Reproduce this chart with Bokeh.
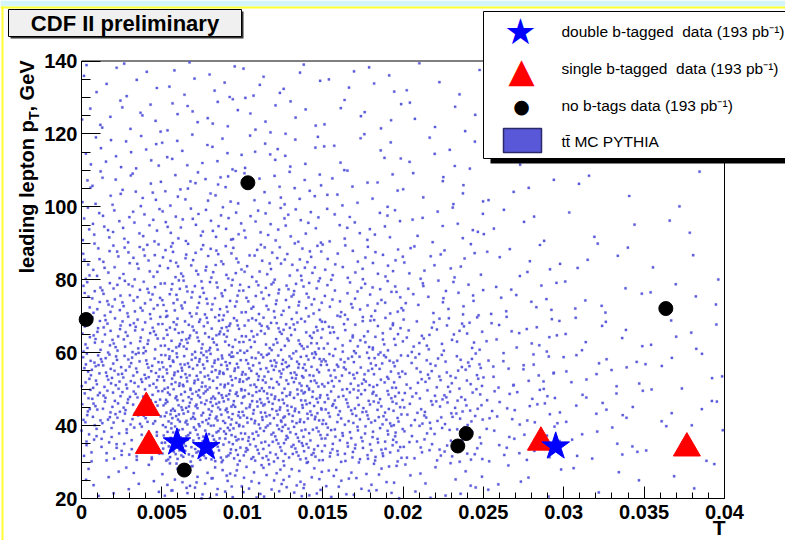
from math import pi
from bokeh.plotting import figure
from bokeh.models import Range1d, FixedTicker, Label, BoxAnnotation, LinearAxis, Grid
from bokeh.embed import file_html
from bokeh.resources import INLINE

# ---------------- data ----------------
# ttbar MC PYTHIA: 2D histogram (T bins x leading-lepton pT bins), entries per cell
T_bin_edges = [0.0, 0.005, 0.01, 0.015, 0.02, 0.025, 0.03, 0.035, 0.04]
pT_bin_edges = [140, 130, 120, 110, 100, 90, 80, 70, 60, 50, 40, 30, 20]   # top -> bottom
mc_counts = [
    [10,  10,   9,  7,  5,  3,  2, 1],   # 130-140
    [13,  12,  11,  8,  6,  3,  2, 1],   # 120-130
    [16,  15,  13, 10,  7,  4,  2, 2],   # 110-120
    [21,  21,  18, 13,  9,  4,  3, 2],   # 100-110
    [28,  30,  25, 18, 12,  6,  3, 2],   # 90-100
    [38,  41,  36, 26, 17,  9,  5, 3],   # 80-90
    [50,  57,  50, 36, 23, 12,  7, 4],   # 70-80
    [64,  77,  67, 49, 33, 17,  9, 6],   # 60-70
    [80, 106,  95, 70, 46, 22, 12, 7],   # 50-60
    [72, 115, 105, 76, 50, 24, 12, 7],   # 40-50
    [45,  98,  90, 66, 40, 19, 10, 6],   # 30-40
    [14,  42,  40, 27, 15,  7,  4, 3],   # 20-30
]

double_T = [0.00594, 0.00776, 0.0295]
double_pT = [35.4, 34.1, 34.3]
single_T = [0.00403, 0.00419, 0.02858, 0.03766]
single_pT = [44.9, 34.5, 35.4, 33.8]
notag_T = [0.00029, 0.00639, 0.01035, 0.02341, 0.02393, 0.03635]
notag_pT = [69.1, 27.8, 106.6, 34.4, 37.8, 72.1]

x_ticks = [0.0, 0.005, 0.01, 0.015, 0.02, 0.025, 0.03, 0.035, 0.04]
x_tick_labels = ["0", "0.005", "0.01", "0.015", "0.02", "0.025", "0.03", "0.035", "0.04"]
y_ticks = [20, 40, 60, 80, 100, 120, 140]
y_tick_labels = ["20", "40", "60", "80", "100", "120", "140"]
x_minor_step = 0.001
y_minor_step = 5
T_min, T_max = 0.0, 0.04
pT_min, pT_max = 20, 140

title_text = "CDF II preliminary"
x_title = "T"
y_title_parts = ["leading lepton p", "T", ", GeV"]
legend_texts = ["double b-tagged\u00a0 data (193 pb\u207b\u00b9)",
                "single b-tagged\u00a0 data (193 pb\u207b\u00b9)",
                "no b-tags data (193 pb\u207b\u00b9)",
                "tt\u0304 MC PYTHIA"]

# ---------------- layout (pixels) ----------------
W, H = 785, 540
PX_L, PX_R = 81, 724          # pixel columns of T = 0 and T = 0.04
PX_T, PX_B = 60.5, 498        # pixel rows of pT = 140 and pT = 20
sx = (T_max - T_min) / (PX_R - PX_L)
sy = (pT_max - pT_min) / (PX_B - PX_T)
x_range = Range1d(T_min - PX_L * sx, T_max + (W - PX_R) * sx)
y_range = Range1d(pT_min - (H - PX_B) * sy, pT_max + PX_T * sy)

# ---------------- MC scatter drawing (ROOT "SCAT" style, deterministic Halton layout) ----------------
def halton(i, b):
    f, r = 1.0, 0.0
    while i > 0:
        f /= b
        r += f * (i % b)
        i //= b
    return r

mc_x, mc_y = [], []
n = 7
for i, row in enumerate(mc_counts):
    y_hi, y_lo = pT_bin_edges[i], pT_bin_edges[i + 1]
    for j, cnt in enumerate(row):
        x_lo, x_hi = T_bin_edges[j], T_bin_edges[j + 1]
        for k in range(cnt):
            n += 1
            mc_x.append(x_lo + halton(n, 2) * (x_hi - x_lo))
            mc_y.append(y_lo + halton(n, 3) * (y_hi - y_lo))

# ---------------- figure ----------------
p = figure(width=W, height=H, x_range=x_range, y_range=y_range,
           output_backend="svg", toolbar_location=None,
           x_axis_location=None, y_axis_location=None, min_border=0)
for r in p.renderers + p.center:
    if isinstance(r, Grid):
        r.visible = False
p.background_fill_color = "white"
p.border_fill_color = "white"
p.outline_line_color = None

FONT = "Liberation Sans"
xaxis = LinearAxis(fixed_location=pT_min, bounds=(T_min, T_max))
yaxis = LinearAxis(fixed_location=T_min, bounds=(pT_min, pT_max))
for ax in (xaxis, yaxis):
    ax.axis_line_color = "black"
    ax.axis_line_width = 1
    ax.major_tick_line_color = "black"
    ax.minor_tick_line_color = "black"
    ax.major_tick_out = 0
    ax.minor_tick_out = 0
    ax.major_label_text_font = FONT
    ax.major_label_text_font_style = "bold"
    ax.major_label_text_font_size = "20px"
    ax.major_label_text_color = "black"

xaxis.ticker = FixedTicker(ticks=x_ticks, minor_ticks=[i * x_minor_step for i in range(41)])
xaxis.major_label_overrides = dict(zip(x_ticks, x_tick_labels))
xaxis.major_tick_in = 12
xaxis.minor_tick_in = 6
xaxis.major_label_standoff = 6

yaxis.ticker = FixedTicker(ticks=y_ticks, minor_ticks=[pT_min + i * y_minor_step for i in range(25)])
yaxis.major_label_overrides = dict(zip(y_ticks, y_tick_labels))
yaxis.major_tick_in = 19
yaxis.minor_tick_in = 9
yaxis.major_label_standoff = 4
p.add_layout(xaxis, "below")
p.add_layout(yaxis, "left")

# plot frame (top / right edges)
p.add_layout(BoxAnnotation(left=T_min, right=T_max, bottom=pT_min, top=pT_max,
                           fill_color=None, fill_alpha=0, line_color="black",
                           line_width=1, line_alpha=1, level="underlay"))

# MC dots
p.scatter(mc_x, mc_y, marker="square", size=2.2, fill_color="#5a5adc",
          line_color="#5a5adc", line_width=0.3)

# data
p.scatter(notag_T, notag_pT, marker="circle", size=14, fill_color="black", line_color="black")
p.scatter(single_T, single_pT, marker="triangle", size=27, fill_color="red", line_color="red")
p.scatter(double_T, double_pT, marker="star", size=29, fill_color="blue", line_color="blue")

# ---------------- annotations (screen coords, origin bottom-left of canvas) ----------------
def box(l, r, t, b, fill, line=None, lw=1):
    p.add_layout(BoxAnnotation(left=l, right=r, top=H - t, bottom=H - b,
                               left_units="screen", right_units="screen",
                               top_units="screen", bottom_units="screen",
                               fill_color=fill, fill_alpha=1.0,
                               line_color=line, line_width=lw,
                               line_alpha=1.0 if line else 0.0))

def label(x, y, text, size, style="normal", color="black", align="left",
          baseline="middle", angle=0.0, font=FONT):
    p.add_layout(Label(x=x, y=H - y, x_units="screen", y_units="screen", text=text,
                       text_font=font, text_font_size=size, text_font_style=style,
                       text_color=color, text_align=align, text_baseline=baseline,
                       angle=angle))

# page edge decoration of the source image
box(0, W, 0, 6, "#d4f6fb")
box(0, W, 6, 8, "#ffff33")
box(1, 3, 6, H, "#ffff33")

# title box (image coordinates: x right, y down)
box(10, 243, 11, 38, "#303030")
box(8, 241, 9, 36, "#f0f0f0", "black", 1)
label(124.5, 23, title_text, "22px", "bold", align="center")

# legend box
box(490, 800, 16, 163, "black")
box(483, 800, 11, 158, "white", "black", 1)
label(520, 31, "\u2605", "36px", color="blue", align="center", font="DejaVu Sans")
label(521, 69, "\u25b2", "34px", color="red", align="center", font="DejaVu Sans")
label(521, 105, "\u25cf", "19px", color="black", align="center", font="DejaVu Sans")
box(503, 541, 128, 152, "#5858d8", "#2a2a6a", 1.5)
for yy, t in zip([31, 68, 105, 141], legend_texts):
    label(561, yy, t, "15.5px")

# axis titles (text centre lines)
label(26, 273, y_title_parts[0], "20px", "bold", angle=pi / 2)
label(33, 119.6, y_title_parts[1], "14px", "bold", angle=pi / 2)
label(26, 111, y_title_parts[2], "20px", "bold", angle=pi / 2)
label(725, 527, x_title, "21px", "bold", align="right")

open("out.html", "w").write(file_html(p, INLINE))
